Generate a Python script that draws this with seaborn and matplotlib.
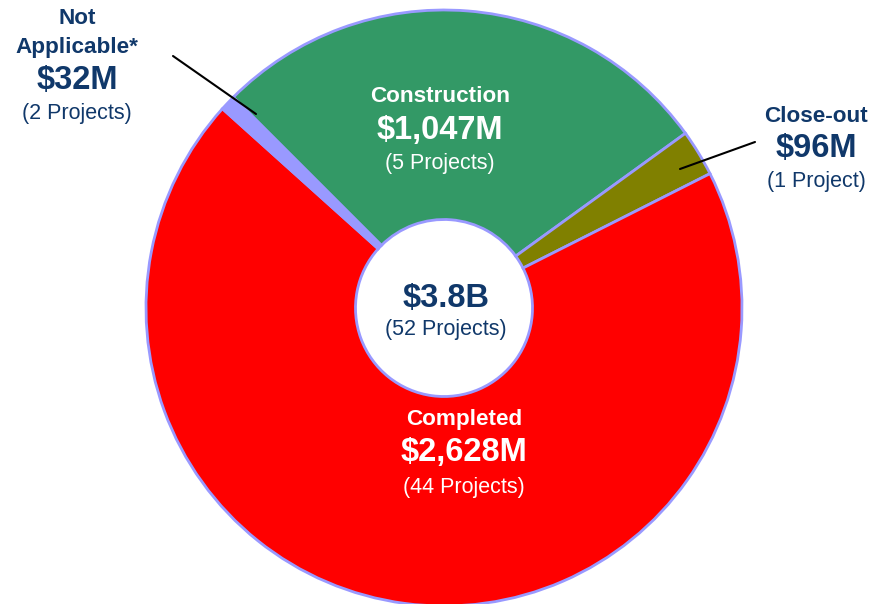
import matplotlib
matplotlib.use("Agg")
import matplotlib.pyplot as plt
import seaborn as sns

# ---- data ----
categories = ["Construction", "Close-out", "Completed", "Not Applicable*"]
values = [1047, 96, 2628, 32]
projects = [5, 1, 44, 2]
colors = ["#339966", "#808000", "#FF0000", "#9999FF"]
total_label = "$3.8B"
total_projects = 52

sns.set_theme(style="white")
plt.rcParams["font.family"] = ["Liberation Sans", "DejaVu Sans"]

W, H = 875, 604
fig = plt.figure(figsize=(W / 100, H / 100), dpi=100)
cx, cy, R = 444, 308, 298
ax = fig.add_axes([(cx - R) / W, (H - cy - R) / H, 2 * R / W, 2 * R / H])

ax.pie(values, colors=colors, startangle=135, counterclock=False, radius=1,
       wedgeprops=dict(width=0.703, edgecolor="#9999FF", linewidth=2.0))
ax.set_xlim(-1, 1)
ax.set_ylim(-1, 1)
ax.set_aspect("equal")
ax.set_axis_off()

navy = "#10386A"
S_BOLD, S_MONEY, S_PROJ = 16.2, 23.5, 15.5

def P(px, py):
    return ((px - cx) / R, (cy - py) / R)

def label(px, ys, lines, color, ha="center"):
    for (py, txt, size, weight) in zip(ys, *lines):
        x, y = P(px, py)
        ax.text(x, y, txt, ha=ha, va="center", fontsize=size, fontweight=weight,
                color=color)

def money(v):
    return f"${v:,}M"

def proj(n):
    return f"({n} Project{'s' if n != 1 else ''})"

# Construction (inside)
label(440, [97, 131, 163],
      ([categories[0], money(values[0]), proj(projects[0])],
       [S_BOLD, S_MONEY, S_PROJ], ["bold", "bold", "normal"]), "white")
# Completed (inside)
label(464, [420, 453, 487],
      ([categories[2], money(values[2]), proj(projects[2])],
       [S_BOLD, S_MONEY, S_PROJ], ["bold", "bold", "normal"]), "white")
# Close-out (outside)
label(816, [117, 149, 182],
      ([categories[1], money(values[1]), proj(projects[1])],
       [S_BOLD, S_MONEY, S_PROJ], ["bold", "bold", "normal"]), navy)
# Not Applicable (outside)
label(77, [18, 48, 81, 113],
      (["Not", "Applicable*", money(values[3]), proj(projects[3])],
       [S_BOLD, S_BOLD, S_MONEY, S_PROJ], ["bold", "bold", "bold", "normal"]), navy)
# Center
label(446, [298, 330],
      ([total_label, f"({total_projects} Projects)"],
       [S_MONEY, S_PROJ], ["bold", "normal"]), navy)

# leader lines
for (a, b) in [((173, 56), (256, 114)), ((755, 142), (680, 169))]:
    (x0, y0), (x1, y1) = P(*a), P(*b)
    ax.plot([x0, x1], [y0, y1], color="black", lw=1.5, clip_on=False)

fig.savefig("out.png", dpi=100)
